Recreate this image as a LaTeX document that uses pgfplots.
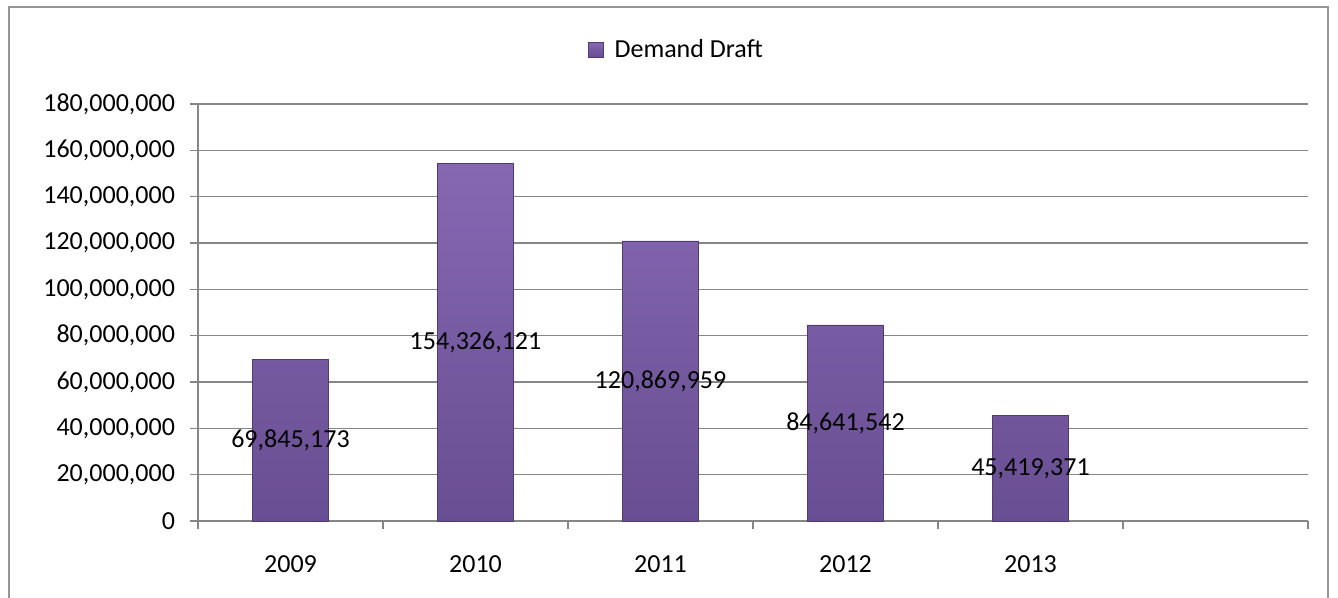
\documentclass[border=0pt]{standalone}
\usepackage{pgfplots}
\pgfplotsset{compat=1.18}
\usepackage{fontspec}
\setmainfont{Carlito}
\definecolor{gridc}{RGB}{134,134,134}
\definecolor{bartop}{RGB}{134,104,178}
\definecolor{barbot}{RGB}{104,78,146}
\definecolor{baredge}{RGB}{80,60,112}
\definecolor{framec}{RGB}{150,150,150}
\begin{document}
\begin{tikzpicture}[x=1pt,y=1pt]
\useasboundingbox (0,0) rectangle (669,-299);
\draw[framec, line width=0.8pt] (4.5,-300) -- (4.5,-3.5) -- (664,-3.5) -- (664,-300);
\begin{axis}[
  at={(99pt,-260.5pt)}, anchor=south west,
  scale only axis, width=555pt, height=208.5pt,
  xmin=-0.5, xmax=5.5, ymin=0, ymax=180000000,
  axis lines*=left,
  axis line style={gridc, line width=0.7pt},
  ymajorgrids, grid style={gridc, line width=0.7pt},
  ytick={0,20000000,40000000,60000000,80000000,100000000,120000000,140000000,160000000,180000000},
  scaled y ticks=false,
  yticklabel style={/pgf/number format/fixed, /pgf/number format/1000 sep={,}, /pgf/number format/assume math mode=true, font=\fontsize{13}{15}\selectfont, xshift=-4pt},
  tick align=outside, major tick length=4pt,
  tick style={gridc, line width=0.7pt},
  xtick={-0.5,0.5,1.5,2.5,3.5,4.5,5.5},
  xticklabels={},
  extra x ticks={0,1,2,3,4},
  extra x tick labels={2009,2010,2011,2012,2013},
  extra x tick style={grid=none, major tick length=0pt, tick style={draw=none},
    xticklabel style={font=\fontsize{13}{15}\selectfont, yshift=-14pt}},
  legend style={at={(0.432,1.13)}, anchor=center, draw=none, fill=none, font=\fontsize{13}{15}\selectfont},
  legend image code/.code={\fill[bartop, draw=baredge, line width=0.3pt] (0pt,-3.6pt) rectangle (7.4pt,3.8pt); \path[draw=none, fill=none] (0pt,0pt) -- (11pt,0pt);},
  clip=false,
]
\addplot[ybar, bar width=38pt, draw=baredge, line width=0.4pt, shading=axis, top color=bartop, bottom color=barbot]
table {
x y
0 69845173
1 154326121
2 120869959
3 84641542
4 45419371
};
\addlegendentry{Demand Draft}
\addplot[draw=none, mark=none, forget plot, nodes near coords, point meta=explicit symbolic,
  every node near coord/.append style={anchor=center, font=\fontsize{13}{15}\selectfont, text=black}]
table[meta=label] {
x y label
0 34922586 69,845,173
1 77163060 154,326,121
2 60434980 120,869,959
3 42320771 84,641,542
4 22709686 45,419,371
};
\end{axis}
\end{tikzpicture}
\end{document}
